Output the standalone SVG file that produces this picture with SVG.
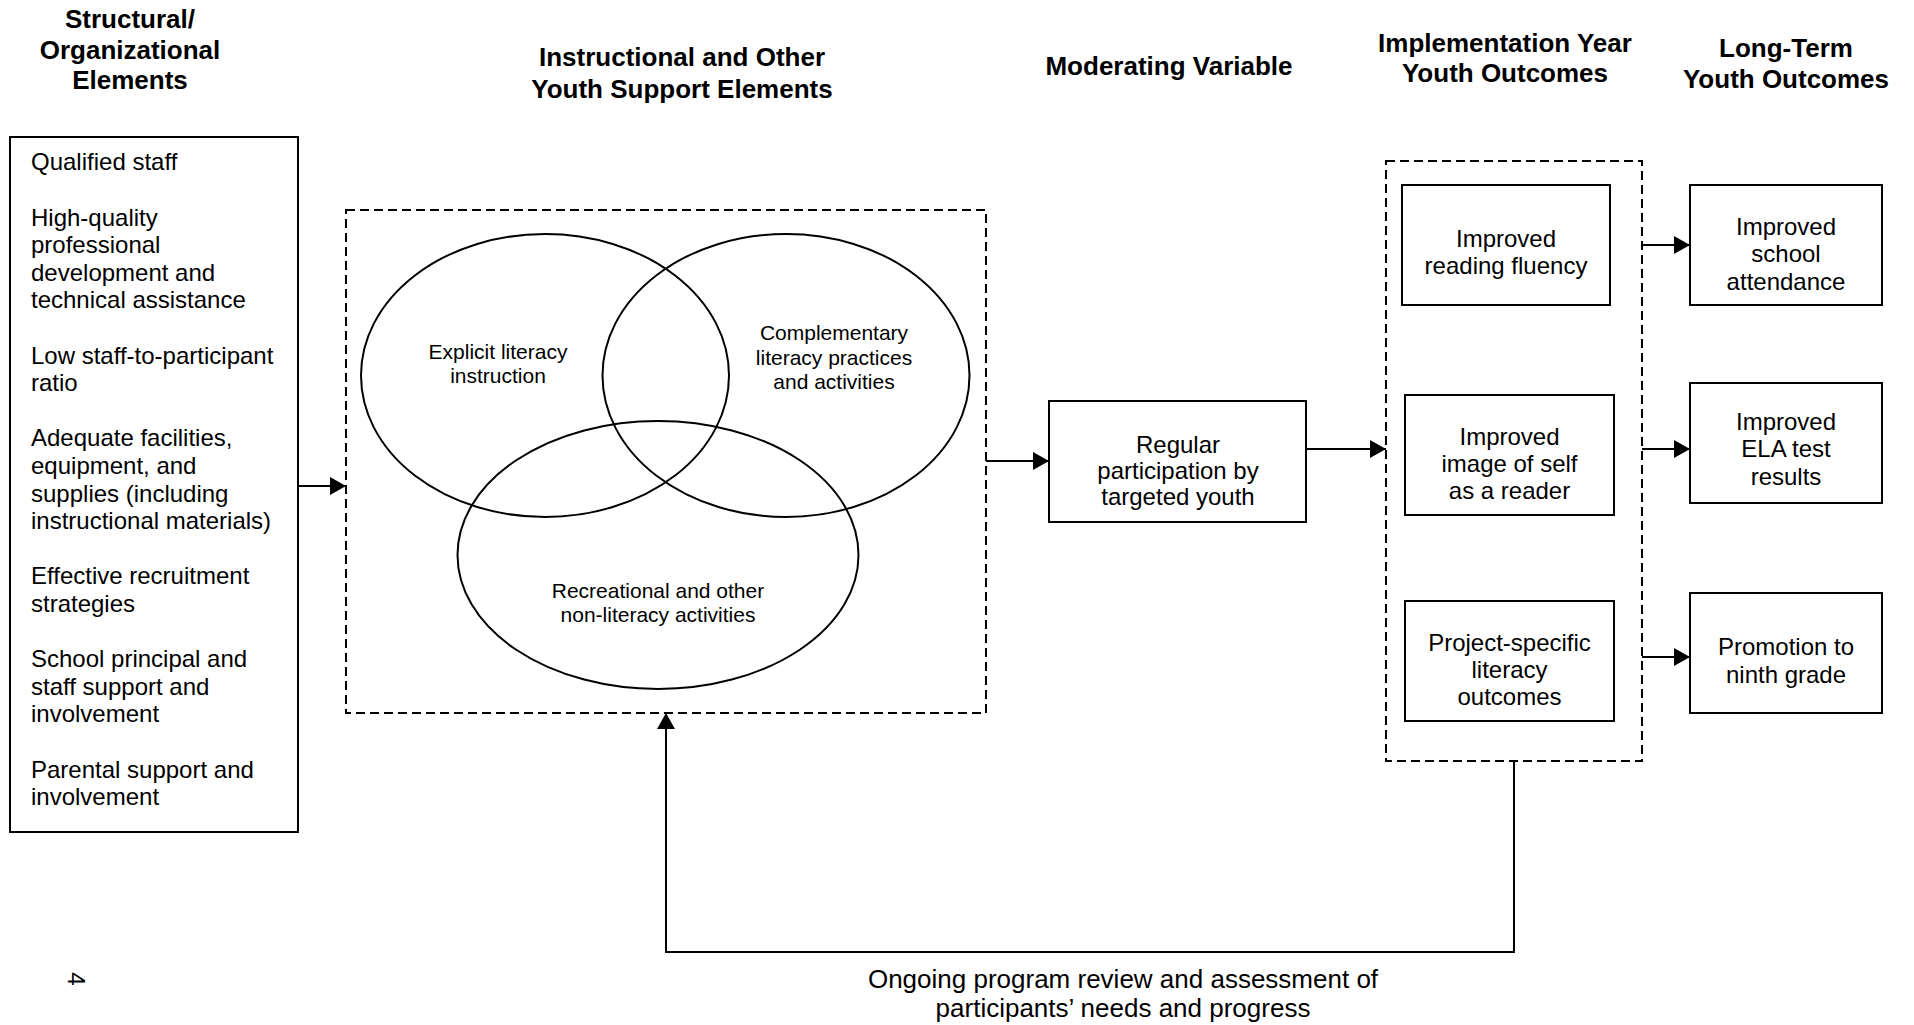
<svg xmlns="http://www.w3.org/2000/svg" width="1914" height="1025" viewBox="0 0 1914 1025">
<style>
  text { font-family: "Liberation Sans", Arial, sans-serif; fill: #000; }
  .title { font-size: 26px; font-weight: bold; text-anchor: middle; }
  .list { font-size: 24px; }
  .box { fill: #fff; stroke: #000; stroke-width: 2; }
  .dash { fill: none; stroke: #000; stroke-width: 2; stroke-dasharray: 9 5; }
  .venn { fill: none; stroke: #000; stroke-width: 2; }
  .lbl { font-size: 24px; text-anchor: middle; }
  .vlbl { font-size: 21px; text-anchor: middle; }
  .conn { fill: none; stroke: #000; stroke-width: 2; marker-end: url(#arrow); }
</style>
<defs>
  <marker id="arrow" markerUnits="userSpaceOnUse" markerWidth="16" markerHeight="18" refX="16" refY="9" orient="auto">
    <path d="M0,0 L16,9 L0,18 z" fill="#000"/>
  </marker>
</defs>
<rect width="1914" height="1025" fill="#fff"/>

<g id="titles">
  <text class="title" x="130" y="28">Structural/</text>
  <text class="title" x="130" y="58.5">Organizational</text>
  <text class="title" x="130" y="89">Elements</text>
  <text class="title" x="682" y="66">Instructional and Other</text>
  <text class="title" x="682" y="98">Youth Support Elements</text>
  <text class="title" x="1169" y="75">Moderating Variable</text>
  <text class="title" x="1505" y="52">Implementation Year</text>
  <text class="title" x="1505" y="82">Youth Outcomes</text>
  <text class="title" x="1786" y="57">Long-Term</text>
  <text class="title" x="1786" y="88">Youth Outcomes</text>
</g>

<g id="structural-elements">
  <rect class="box" x="10" y="137" width="288" height="695"/>
  <text class="list" x="31">
    <tspan x="31" y="170.4">Qualified staff</tspan>
    <tspan x="31" y="225.6">High-quality</tspan>
    <tspan x="31" y="253.2">professional</tspan>
    <tspan x="31" y="280.8">development and</tspan>
    <tspan x="31" y="308.4">technical assistance</tspan>
    <tspan x="31" y="363.6">Low staff-to-participant</tspan>
    <tspan x="31" y="391.2">ratio</tspan>
    <tspan x="31" y="446.4">Adequate facilities,</tspan>
    <tspan x="31" y="474">equipment, and</tspan>
    <tspan x="31" y="501.6">supplies (including</tspan>
    <tspan x="31" y="529.2">instructional materials)</tspan>
    <tspan x="31" y="584.4">Effective recruitment</tspan>
    <tspan x="31" y="612">strategies</tspan>
    <tspan x="31" y="667.2">School principal and</tspan>
    <tspan x="31" y="694.8">staff support and</tspan>
    <tspan x="31" y="722.4">involvement</tspan>
    <tspan x="31" y="777.6">Parental support and</tspan>
    <tspan x="31" y="805.2">involvement</tspan>
  </text>
</g>

<g id="instructional-elements">
  <rect class="dash" x="346" y="210" width="640" height="503"/>
  <g id="explicit-literacy">
    <ellipse class="venn" cx="545" cy="375.5" rx="184" ry="141.5"/>
    <text class="vlbl" x="498" y="359">Explicit literacy</text>
    <text class="vlbl" x="498" y="383">instruction</text>
  </g>
  <g id="complementary-literacy">
    <ellipse class="venn" cx="786" cy="375.5" rx="183.5" ry="141.5"/>
    <text class="vlbl" x="834" y="340">Complementary</text>
    <text class="vlbl" x="834" y="364.5">literacy practices</text>
    <text class="vlbl" x="834" y="389">and activities</text>
  </g>
  <g id="recreational">
    <ellipse class="venn" cx="658" cy="555" rx="200.5" ry="134"/>
    <text class="vlbl" x="658" y="598">Recreational and other</text>
    <text class="vlbl" x="658" y="622">non-literacy activities</text>
  </g>
</g>

<g id="regular-participation">
  <rect class="box" x="1049" y="401" width="257" height="121"/>
  <text class="lbl" x="1178" y="453">Regular</text>
  <text class="lbl" x="1178" y="479">participation by</text>
  <text class="lbl" x="1178" y="505">targeted youth</text>
</g>

<g id="implementation-outcomes">
  <rect class="dash" x="1386" y="161" width="256" height="600"/>
  <g id="reading-fluency">
    <rect class="box" x="1402" y="185" width="208" height="120"/>
    <text class="lbl" x="1506" y="247">Improved</text>
    <text class="lbl" x="1506" y="274">reading fluency</text>
  </g>
  <g id="self-image">
    <rect class="box" x="1405" y="395" width="209" height="120"/>
    <text class="lbl" x="1509.5" y="445">Improved</text>
    <text class="lbl" x="1509.5" y="472">image of self</text>
    <text class="lbl" x="1509.5" y="499">as a reader</text>
  </g>
  <g id="project-specific">
    <rect class="box" x="1405" y="601" width="209" height="120"/>
    <text class="lbl" x="1509.5" y="651">Project-specific</text>
    <text class="lbl" x="1509.5" y="678">literacy</text>
    <text class="lbl" x="1509.5" y="705">outcomes</text>
  </g>
</g>

<g id="school-attendance">
  <rect class="box" x="1690" y="185" width="192" height="120"/>
  <text class="lbl" x="1786" y="235">Improved</text>
  <text class="lbl" x="1786" y="262">school</text>
  <text class="lbl" x="1786" y="290">attendance</text>
</g>
<g id="ela-results">
  <rect class="box" x="1690" y="383" width="192" height="120"/>
  <text class="lbl" x="1786" y="430">Improved</text>
  <text class="lbl" x="1786" y="457">ELA test</text>
  <text class="lbl" x="1786" y="485">results</text>
</g>
<g id="ninth-grade">
  <rect class="box" x="1690" y="593" width="192" height="120"/>
  <text class="lbl" x="1786" y="655">Promotion to</text>
  <text class="lbl" x="1786" y="683">ninth grade</text>
</g>

<g id="connectors">
  <path class="conn" d="M298,486 H346"/>
  <path class="conn" d="M986,461 H1049"/>
  <path class="conn" d="M1306,449 H1386"/>
  <path class="conn" d="M1642,245 H1690"/>
  <path class="conn" d="M1642,449 H1690"/>
  <path class="conn" d="M1642,657 H1690"/>
  <path class="conn" d="M1514,761 V952 H666 V713"/>
</g>

<g id="feedback-label">
  <text x="1123" y="988" style="font-size:26px;text-anchor:middle">Ongoing program review and assessment of</text>
  <text x="1123" y="1017" style="font-size:26px;text-anchor:middle">participants’ needs and progress</text>
</g>

<text x="0" y="0" transform="translate(68,979) rotate(90)" style="font-size:24px;text-anchor:middle">4</text>
</svg>
